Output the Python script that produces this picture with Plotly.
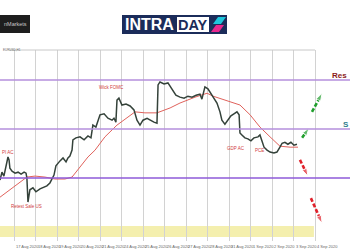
import plotly.graph_objects as go

# ---------------- data ----------------
day = [-0.65, -0.56, -0.47, -0.37, -0.28, -0.23, -0.19, -0.09, 0.05, 0.19, 0.33, 0.47, 0.56, 0.60,
       0.65, 0.70, 0.74, 0.88, 1.02, 1.21, 1.40, 1.53, 1.67, 1.77, 1.86, 1.95, 2.05, 2.14, 2.28,
       2.42, 2.51, 2.60, 2.70, 2.74, 2.88, 3.07, 3.26, 3.44, 3.58, 3.67, 3.81, 4.00, 4.19, 4.37,
       4.56, 4.65, 4.74, 4.79, 4.88, 5.02, 5.21, 5.40, 5.58, 5.72, 5.86, 6.00, 6.19, 6.33, 6.51,
       6.65, 6.70, 6.79, 6.98, 7.16, 7.35, 7.53, 7.72, 7.91, 8.09, 8.28, 8.47, 8.65, 8.74, 8.88,
       9.02, 9.16, 9.30, 9.44, 9.58, 9.67, 9.81, 9.95, 10.09, 10.23, 10.37, 10.47, 10.51, 10.60,
       10.74, 10.88, 11.02, 11.16, 11.35, 11.44, 11.53, 11.63, 11.77, 11.91, 12.09, 12.23, 12.37,
       12.47, 12.60, 12.74, 12.88, 13.02, 13.16]
price = [1.1796, 1.1812, 1.1804, 1.1827, 1.1843, 1.1837, 1.1820, 1.1814, 1.1810, 1.1812, 1.1808,
         1.1812, 1.1810, 1.1800, 1.1751, 1.1765, 1.1776, 1.1780, 1.1772, 1.1778, 1.1782, 1.1784,
         1.1790, 1.1800, 1.1806, 1.1825, 1.1831, 1.1835, 1.1841, 1.1833, 1.1841, 1.1845, 1.1857,
         1.1878, 1.1882, 1.1884, 1.1878, 1.1886, 1.1882, 1.1908, 1.1904, 1.1929, 1.1931, 1.1922,
         1.1918, 1.1922, 1.1914, 1.1959, 1.1963, 1.1949, 1.1951, 1.1947, 1.1939, 1.1918, 1.1908,
         1.1918, 1.1922, 1.1918, 1.1914, 1.1912, 1.1990, 1.1996, 1.1992, 1.1994, 1.1980, 1.1969,
         1.1965, 1.1963, 1.1967, 1.1965, 1.1969, 1.1971, 1.1961, 1.1986, 1.1982, 1.1973, 1.1963,
         1.1953, 1.1935, 1.1918, 1.1910, 1.1918, 1.1927, 1.1931, 1.1935, 1.1929, 1.1892, 1.1888,
         1.1882, 1.1880, 1.1876, 1.1882, 1.1884, 1.1888, 1.1878, 1.1863, 1.1857, 1.1853, 1.1851,
         1.1853, 1.1863, 1.1871, 1.1873, 1.1869, 1.1873, 1.1867, 1.1869]

ma_day = [-0.65, -0.19, 0.28, 0.60, 0.98, 1.44, 1.91, 2.37, 2.70, 3.07, 3.44, 3.77, 4.23, 4.79,
          5.26, 5.63, 6.09, 6.65, 7.26, 7.72, 8.42, 8.98, 9.26, 9.81, 10.51, 10.98, 11.44, 11.91,
          12.37, 12.84, 13.21]
ma_val = [1.1761, 1.1776, 1.1792, 1.1802, 1.1804, 1.1802, 1.1798, 1.1798, 1.1802, 1.1822, 1.1843,
          1.1857, 1.1884, 1.1908, 1.1924, 1.1935, 1.1933, 1.1933, 1.1943, 1.1953, 1.1965, 1.1973,
          1.1967, 1.1959, 1.1949, 1.1929, 1.1904, 1.1884, 1.1865, 1.1863, 1.1863]

levels = [1.2000, 1.1900, 1.1800]
level_colors = ["#b48fdc", "#b48fdc", "#8e5ad8"]
zone = [1.1680, 1.1702]
zone_end_day = 13.95

tick_days = list(range(15))
date_labels = ["17 Aug 2020", "18 Aug 2020", "19 Aug 2020", "20 Aug 2020", "21 Aug 2020",
               "24 Aug 2020", "25 Aug 2020", "26 Aug 2020", "27 Aug 2020", "28 Aug 2020",
               "31 Aug 2020", "1 Sep 2020", "2 Sep 2020", "3 Sep 2020", "4 Sep 2020"]

events = ["PI AC", "Retest Sale US", "Wick FOMC", "GDP AC", "PCE"]
event_day = [-0.64, 0.56, 4.53, 10.33, 11.40]
event_price = [1.1853, 1.1741, 1.1984, 1.1861, 1.1857]

up_arrow_day = [[13.40, 13.72], [13.86, 14.33]]
up_arrow_price = [[1.1882, 1.1902], [1.1935, 1.1973]]
down_arrow_day = [[13.30, 13.67], [13.81, 14.33]]
down_arrow_price = [[1.1837, 1.1804], [1.1759, 1.1708]]

# ---------------- figure ----------------
W, H = 350, 250
T, B = 50, 9


def px(x):
    return x / W


def py(y):
    return (H - B - y) / (H - T - B)


fig = go.Figure()

fig.add_trace(go.Scatter(x=ma_day, y=ma_val, mode="lines",
                         line=dict(color="#e0625c", width=1), hoverinfo="skip"))
fig.add_trace(go.Scatter(x=day, y=price, mode="lines",
                         line=dict(color="#34423a", width=1.5), hoverinfo="skip"))

for xs, ys in zip(up_arrow_day, up_arrow_price):
    fig.add_trace(go.Scatter(x=xs, y=ys, mode="lines+markers",
                             line=dict(color="#1f9e2c", width=2.6, dash="4px,2px"),
                             marker=dict(symbol=["circle", "arrow"], size=[0, 8],
                                         angleref="previous", color="#1f9e2c"),
                             hoverinfo="skip"))
for xs, ys in zip(down_arrow_day, down_arrow_price):
    fig.add_trace(go.Scatter(x=xs, y=ys, mode="lines+markers",
                             line=dict(color="#e0202a", width=2.6, dash="4px,2px"),
                             marker=dict(symbol=["circle", "arrow"], size=[0, 8],
                                         angleref="previous", color="#e0202a"),
                             hoverinfo="skip"))

shapes = []
# demand zone
shapes.append(dict(type="rect", xref="x", yref="y", x0=-0.651, x1=zone_end_day,
                   y0=zone[0], y1=zone[1], fillcolor="#f4efae", line=dict(width=0),
                   layer="below"))
# horizontal levels
for lv, c in zip(levels, level_colors):
    shapes.append(dict(type="line", xref="paper", yref="y", x0=0, x1=1, y0=lv, y1=lv,
                       line=dict(color=c, width=1.5)))
# top border of chart
shapes.append(dict(type="line", xref="x", yref="paper", x0=-0.2, x1=14, y0=1, y1=1,
                   line=dict(color="#c8c8c8", width=1)))
# logos
shapes.append(dict(type="rect", xref="paper", yref="paper", x0=px(0), x1=px(30),
                   y0=py(33), y1=py(15), fillcolor="#1e1e1e", line=dict(width=0)))
shapes.append(dict(type="rect", xref="paper", yref="paper", x0=px(122), x1=px(227),
                   y0=py(34), y1=py(15), fillcolor="#1b2c5a", line=dict(width=0)))
shapes.append(dict(type="rect", xref="paper", yref="paper", x0=px(177), x1=px(209),
                   y0=py(32), y1=py(17), fillcolor="#ffffff", line=dict(width=0)))


def path(points):
    return "M " + " L ".join(f"{px(a):.5f},{py(b):.5f}" for a, b in points) + " Z"


shapes.append(dict(type="path", xref="paper", yref="paper",
                   path=path([(213, 24), (218, 17), (226, 17), (221, 24)]),
                   fillcolor="#1ec6dc", line=dict(width=0)))
shapes.append(dict(type="path", xref="paper", yref="paper",
                   path=path([(211, 32), (216, 25), (224, 25), (219, 32)]),
                   fillcolor="#e8288e", line=dict(width=0)))

annotations = []
for d, lab in zip(tick_days, date_labels):
    annotations.append(dict(x=d, y=0, xref="x", yref="paper", text=lab, showarrow=False,
                            xanchor="left", yanchor="top", yshift=-1,
                            font=dict(size=4, color="#666666", family="Liberation Sans")))
for t, d, p in zip(events, event_day, event_price):
    annotations.append(dict(x=d, y=p, xref="x", yref="y", text=t, showarrow=False,
                            xanchor="left" if d < 0 else "center", yanchor="middle",
                            font=dict(size=4.5, color="#d23c3c", family="Liberation Sans")))
annotations.append(dict(x=px(331), y=1.2010, xref="paper", yref="y", text="<b>Res</b>",
                        showarrow=False, xanchor="left", yanchor="middle", borderpad=0,
                        font=dict(size=8, color="#8b1a1a", family="Liberation Sans")))
annotations.append(dict(x=px(342), y=1.1910, xref="paper", yref="y", text="<b>S</b>",
                        showarrow=False, xanchor="left", yanchor="middle", borderpad=0,
                        font=dict(size=8, color="#2e7d8c", family="Liberation Sans")))
annotations.append(dict(x=px(1), y=1, xref="paper", yref="paper", text="EURUSD,H1",
                        showarrow=False, xanchor="left", yanchor="middle",
                        font=dict(size=3, color="#666666", family="Liberation Sans")))
annotations.append(dict(x=px(15), y=py(24), xref="paper", yref="paper", text="nMarkets",
                        showarrow=False, xanchor="center", yanchor="middle",
                        font=dict(size=5.5, color="#c8c8c8", family="Liberation Sans")))
annotations.append(dict(x=px(149.5), y=py(24.5), xref="paper", yref="paper", text="<b>INTRA</b>",
                        showarrow=False, xanchor="center", yanchor="middle",
                        font=dict(size=16, color="#ffffff", family="Liberation Sans")))
annotations.append(dict(x=px(193), y=py(24.5), xref="paper", yref="paper", text="<b>DAY</b>",
                        showarrow=False, xanchor="center", yanchor="middle",
                        font=dict(size=14.5, color="#1b2c5a", family="Liberation Sans")))

fig.update_layout(
    width=W, height=H,
    margin=dict(l=0, r=0, t=T, b=B, pad=0),
    paper_bgcolor="#ffffff", plot_bgcolor="#ffffff",
    showlegend=False,
    shapes=shapes, annotations=annotations,
    xaxis=dict(range=[-0.651, 15.628], tickvals=tick_days, showticklabels=False,
               showgrid=True, gridcolor="#d2d2d2", gridwidth=1, zeroline=False,
               ticks="", showline=False, fixedrange=True),
    yaxis=dict(range=[1.16716, 1.20612], showgrid=False, showticklabels=False,
               zeroline=False, ticks="", showline=False, fixedrange=True),
)

fig.write_html("out.html", config={"displayModeBar": False})
